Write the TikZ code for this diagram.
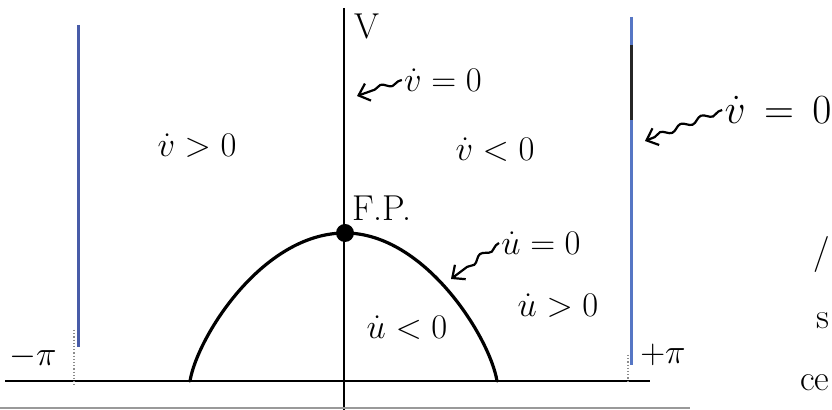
\documentclass[tikz,border=0pt]{standalone}
\usetikzlibrary{arrows.meta,decorations.pathmorphing}
\definecolor{wallblue}{RGB}{72,92,168}
\definecolor{wallblue2}{RGB}{86,118,196}
\begin{document}
\begin{tikzpicture}[
  x=0.5pt, y=-0.5pt,
  axis/.style={line width=1.3pt, draw=black},
  wall/.style={line width=1.5pt, draw=wallblue},
  stub/.style={densely dotted, draw=black!45, line width=0.6pt},
  nullcl/.style={line width=1.6pt, draw=black, line cap=round},
  lbl/.style={font=\fontsize{18}{20}\selectfont, inner sep=1pt},
  squig/.style={-{Straight Barb[length=5pt,width=9pt]}, line width=1.1pt,
                decorate, decoration={snake, amplitude=1.3pt,
                segment length=11pt, pre length=2pt, post length=5pt}}
]
\useasboundingbox (0,0) rectangle (832,410);

% axes
\coordinate (haxL) at (5,381);
\coordinate (haxR) at (650,381);
\coordinate (vaxT) at (344,8);
\coordinate (vaxB) at (344,410);
\draw[axis] (haxL) -- (haxR);
\draw[axis] (vaxT) -- (vaxB);
\draw[black!40, line width=1pt] (0,408) -- (690,408);

% walls at -pi and +pi
\draw[stub] (74,330) -- (74,385);
\draw[wall] (78,25) -- (78,347);
\draw[stub] (628,355) -- (628,381);
\draw[wall, draw=wallblue2] (631,17) -- (631,365);
\draw[wall, draw=black!85] (631,45) -- (631,120);

% nullcline udot = 0 and fixed point
\coordinate (footL) at (190,381);
\coordinate (footR) at (497,381);
\node[circle, fill=black, minimum size=9pt, inner sep=0pt] (fp) at (345,233) {};
\draw[nullcl] (footL) .. controls (197,338) and (262,233) .. (fp.center)
              .. controls (425,233) and (490,338) .. (footR);

% labels
\node[lbl] (vaxlbl)  at (367,27)  {V};
\node[lbl] (vdotpos) at (197,146) {$\dot v > 0$};
\node[lbl] (vdotneg) at (495,150) {$\dot v < 0$};
\node[lbl] (vnullA)  at (443,80)  {$\dot v = 0$};
\node[lbl, font=\fontsize{22}{24}\selectfont] (vnullB) at (778,110) {$\dot v\,=\,0$};
\node[lbl] (fplbl)   at (382,208) {F.P.};
\node[lbl] (unull)   at (541,243) {$\dot u = 0$};
\node[lbl] (udotneg) at (407,328) {$\dot u < 0$};
\node[lbl] (udotpos) at (558,306) {$\dot u > 0$};
\node[lbl] (mpi)     at (33,357)  {$-\pi$};
\node[lbl] (ppi)     at (663,355) {$+\pi$};
\node[lbl, anchor=east] (frag1) at (832,255) {/};
\node[lbl, anchor=east] (frag2) at (832,321) {s};
\node[lbl, anchor=east] (frag3) at (832,383) {ce};

% pointers
\coordinate (vtipA) at (357,96);
\coordinate (vtipB) at (645,141);
\coordinate (utip)  at (451,279);
\draw[squig] (vnullA.west) -- (vtipA);
\draw[squig] (vnullB.west) -- (vtipB);
\draw[squig] (unull.west) -- (utip);
\end{tikzpicture}
\end{document}
